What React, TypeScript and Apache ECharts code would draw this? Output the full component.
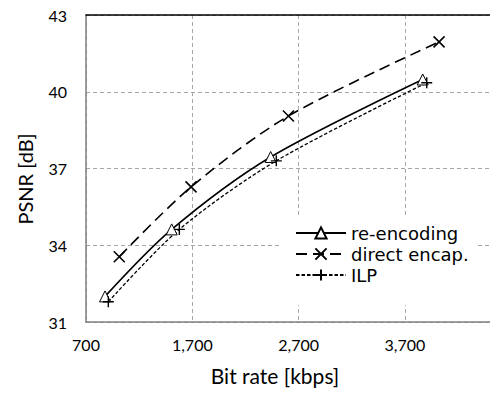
import React, { useEffect, useRef } from "react";
import * as echarts from "echarts";

const reEncodingX = [879, 1506, 2437, 3867];
const reEncodingY = [32.0, 34.62, 37.45, 40.48];
const directX = [1013, 1688, 2604, 4021];
const directY = [33.55, 36.28, 39.05, 41.95];
const ilpX = [910, 1578, 2490, 3905];
const ilpY = [31.79, 34.62, 37.3, 40.35];
const seriesNames = ["re-encoding", "direct encap.", "ILP"];

const FONT = "Lato";

function pairs(xs: number[], ys: number[]) {
  return xs.map((x, i) => [x, ys[i]]);
}

export default function App() {
  const ref = useRef<HTMLDivElement>(null);
  useEffect(() => {
    if (!ref.current) return;
    document.body.style.margin = "0";
    const chart = echarts.init(ref.current, undefined, { renderer: "svg" });
    const grid = "#a6a6a6";
    chart.setOption({
      animation: false,
      backgroundColor: "#fff",
      grid: { left: 86, right: 0, top: 15, bottom: 72 },
      xAxis: [
        {
          type: "value",
          min: 700,
          max: 4500,
          interval: 1000,
          axisLine: { show: true, lineStyle: { color: "#808080", width: 1.5 } },
          axisTick: { show: false },
          splitLine: { show: true, lineStyle: { color: grid, type: [4, 3], width: 1 } },
          axisLabel: {
            color: "#000",
            fontFamily: FONT,
            fontSize: 16,
            margin: 14,
            showMaxLabel: false,
            formatter: (v: number) => v.toLocaleString("en-US"),
          },
        },
        {
          type: "value",
          position: "top",
          min: 700,
          max: 4500,
          axisLine: { show: true, lineStyle: { color: "#000", width: 1.5 } },
          axisTick: { show: false },
          axisLabel: { show: false },
          splitLine: { show: false },
        },
      ],
      yAxis: {
        type: "value",
        min: 31,
        max: 43,
        interval: 3,
        axisLine: { show: true, lineStyle: { color: "#808080", width: 1.5 } },
        axisTick: { show: false },
        splitLine: { show: true, lineStyle: { color: grid, type: [4, 3], width: 1 } },
        axisLabel: { color: "#000", fontFamily: FONT, fontSize: 16, margin: 19 },
      },
      legend: {
        orient: "vertical",
        left: 280,
        top: 217,
        backgroundColor: "#fff",
        padding: [7, 8, 21, 15],
        itemWidth: 50,
        itemHeight: 14,
        itemGap: 3,
        textStyle: { fontFamily: "DejaVu Sans", fontSize: 18, color: "#000" },
        data: seriesNames,
      },
      graphic: [
        {
          type: "text",
          x: 25,
          y: 179,
          rotation: Math.PI / 2,
          style: {
            text: "PSNR [dB]",
            font: `20px ${FONT}`,
            fill: "#000",
            textAlign: "center",
            textVerticalAlign: "middle",
          },
        },
        {
          type: "text",
          x: 275,
          y: 375,
          style: {
            text: "Bit rate [kbps]",
            font: `21px ${FONT}`,
            fill: "#000",
            textAlign: "center",
            textVerticalAlign: "middle",
          },
        },
      ],
      series: [
        {
          name: seriesNames[0],
          type: "line",
          smooth: 0.3,
          data: pairs(reEncodingX, reEncodingY),
          symbol: "triangle",
          symbolSize: 11,
          lineStyle: { color: "#000", width: 1.6, type: "solid" },
          itemStyle: { color: "#fff", borderColor: "#000", borderWidth: 1 },
        },
        {
          name: seriesNames[1],
          type: "line",
          smooth: 0.3,
          data: pairs(directX, directY),
          symbol: "path://M0,0L10,10M10,0L0,10",
          symbolSize: 11,
          lineStyle: { color: "#000", width: 1.6, type: [11, 6] },
          itemStyle: { color: "none", borderColor: "#000", borderWidth: 1.6 },
        },
        {
          name: seriesNames[2],
          type: "line",
          smooth: 0.3,
          data: pairs(ilpX, ilpY),
          symbol: "path://M5,0L5,10M0,5L10,5",
          symbolSize: 11,
          lineStyle: { color: "#000", width: 1.3, type: [3.5, 2] },
          itemStyle: { color: "none", borderColor: "#000", borderWidth: 1.4 },
        },
      ],
    });
    return () => chart.dispose();
  }, []);
  return <div ref={ref} style={{ width: 490, height: 394 }} />;
}
